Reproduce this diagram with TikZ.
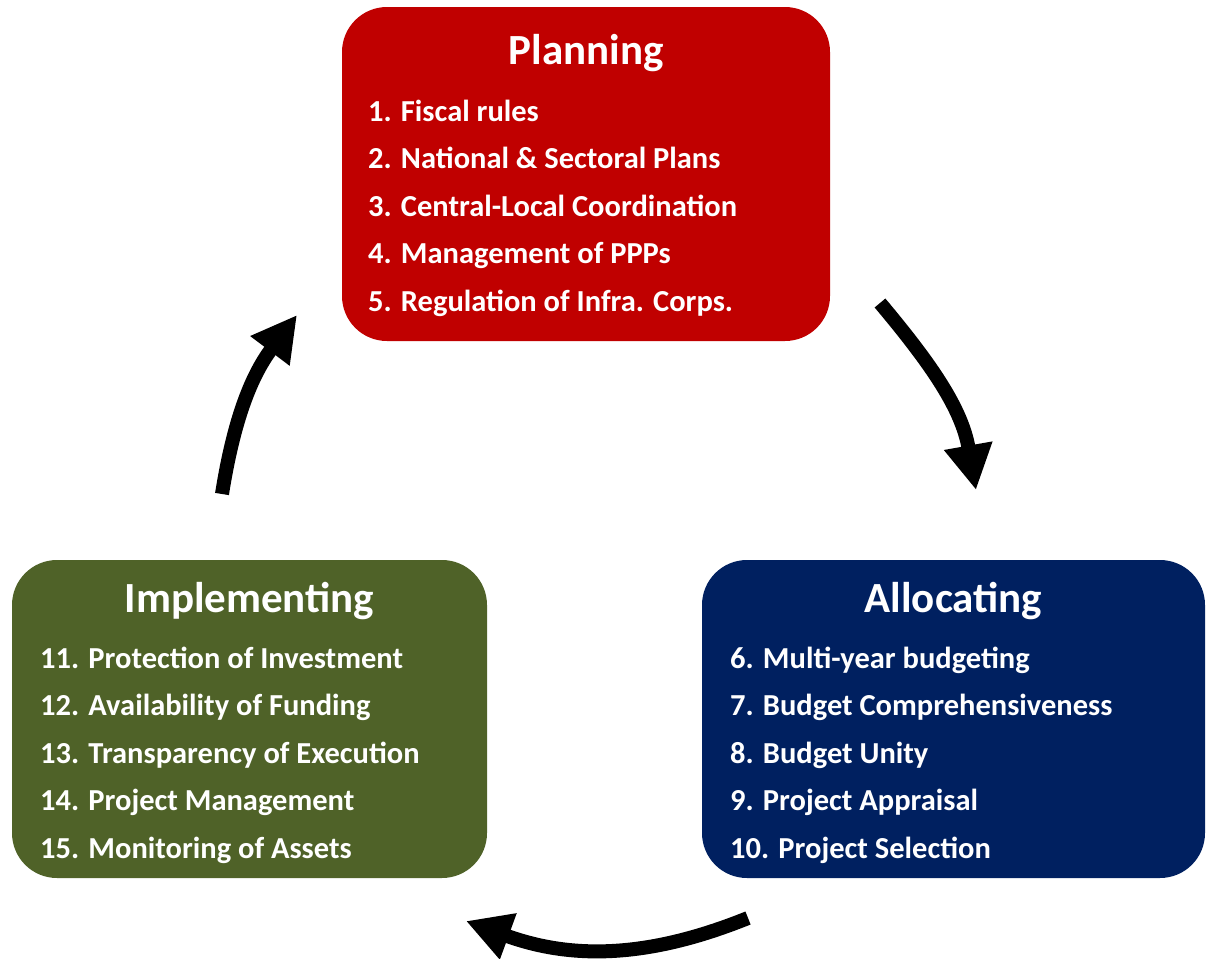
\documentclass[tikz,border=0pt]{standalone}
\usepackage{fontspec}
\setmainfont{Carlito}
\usetikzlibrary{arrows.meta}
\definecolor{planred}{HTML}{C00000}
\definecolor{allocblue}{HTML}{002060}
\definecolor{implgreen}{HTML}{4F6228}
\begin{document}
\begin{tikzpicture}[x=1pt,y=1pt,
  stage/.style={rounded corners=45pt, inner sep=0pt, minimum height=318pt},
  stagetitle/.style={text=white, inner sep=0pt, anchor=base,
    font=\bfseries\fontsize{43}{47}\selectfont},
  item/.style={text=white, inner sep=0pt, anchor=base west,
    font=\bfseries\fontsize{30.5}{34}\selectfont},
  cycle/.style={line width=14pt, -{Triangle[length=45pt,width=46pt]}}
]
\useasboundingbox (0,0) rectangle (1211,-959);

% the three stage boxes
\node[stage, fill=planred, minimum width=488pt, minimum height=334pt] (plan) at (586,-174) {};
\node[stage, fill=allocblue, minimum width=503pt] (alloc) at (953.5,-719) {};
\node[stage, fill=implgreen, minimum width=475pt] (impl) at (249.5,-719) {};

% titles
\node[stagetitle] (plantitle) at (586,-64) {Planning};
\node[stagetitle] (alloctitle) at (953.5,-612) {Allocating};
\node[stagetitle] (impltitle) at (249.5,-612) {Implementing};

% numbered items
\foreach \t [count=\i] in {1. Fiscal rules, 2. National \& Sectoral Plans,
    3. Central-Local Coordination, 4. Management of PPPs,
    5. Regulation of Infra. Corps.}
  \node[item, name=p\i] at (368,-121-47.5*\i+47.5) {\t};
\foreach \t [count=\i] in {6. Multi-year budgeting, 7. Budget Comprehensiveness,
    8. Budget Unity, 9. Project Appraisal, 10. Project Selection}
  \node[item, name=a\i] at (730,-668-47.5*\i+47.5) {\t};
\foreach \t [count=\i] in {11. Protection of Investment, 12. Availability of Funding,
    13. Transparency of Execution, 14. Project Management,
    15. Monitoring of Assets}
  \node[item, name=m\i] at (40,-668-47.5*\i+47.5) {\t};

% cycle arrows
\coordinate (c1s) at (880,-303);
\coordinate (c1e) at (976,-490);
\coordinate (c2s) at (748,-918);
\coordinate (c2e) at (466,-921);
\coordinate (c3s) at (222,-494);
\coordinate (c3e) at (297,-315);
\draw[cycle] (c1s) to[out=-50, in=100] (c1e);
\draw[cycle] (c2s) to[out=-158, in=-20] (c2e);
\draw[cycle] (c3s) to[out=81, in=-127] (c3e);
\end{tikzpicture}
\end{document}
